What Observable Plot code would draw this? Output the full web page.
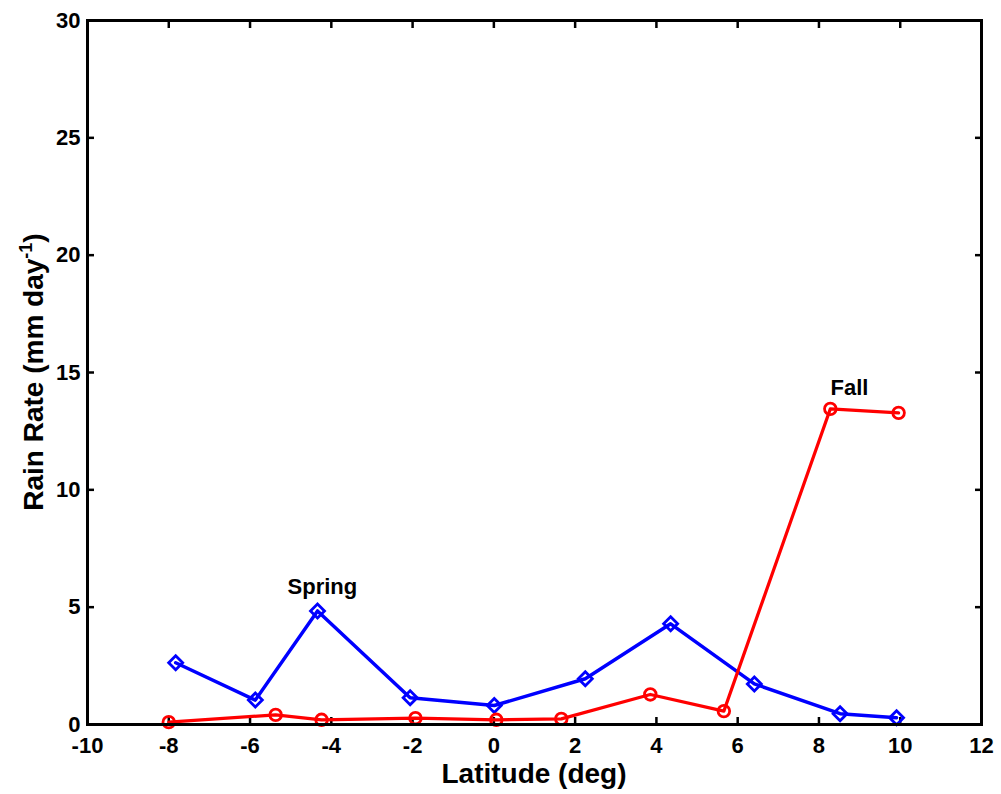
<!DOCTYPE html>
<html><head><meta charset="utf-8">
<script src="https://cdn.jsdelivr.net/npm/d3@7"></script>
<script src="https://cdn.jsdelivr.net/npm/@observablehq/plot@0.6"></script>
<style>body{margin:0;background:#fff} svg{display:block}</style>
</head><body><div id="chart"></div>
<script>
// Spring (blue diamonds)
const springLat  = [-7.83, -5.87, -4.34, -2.06, 0.01, 2.25, 4.35, 6.41, 8.52, 9.91];
const springRain = [2.63, 1.04, 4.84, 1.14, 0.81, 1.95, 4.29, 1.73, 0.46, 0.29];
// Fall (red circles)
const fallLat  = [-8.0, -5.37, -4.24, -1.93, 0.06, 1.66, 3.85, 5.66, 8.28, 9.96];
const fallRain = [0.10, 0.41, 0.20, 0.27, 0.20, 0.24, 1.28, 0.57, 13.45, 13.28];
// Axis ticks
const xTicks = [-10, -8, -6, -4, -2, 0, 2, 4, 6, 8, 10, 12];
const yTicks = [0, 5, 10, 15, 20, 25, 30];
// Annotations
const noteNames = ["Spring", "Fall"];
const noteLat = [-4.22, 8.75];
const noteRain = [5.54, 14.02];

const spring = springLat.map((x, i) => ({x, y: springRain[i]}));
const fall = fallLat.map((x, i) => ({x, y: fallRain[i]}));
const notes = noteNames.map((name, i) => ({name, x: noteLat[i], y: noteRain[i]}));

const W = 1001, H = 794, mL = 87, mR = 20, mT = 20, mB = 70;
const fmt = d => String(d);

const chart = Plot.plot({
  width: W, height: H,
  marginLeft: mL, marginRight: mR, marginTop: mT, marginBottom: mB,
  style: {fontFamily: "'Liberation Sans', Arial, sans-serif", fontSize: "22px", fontWeight: "bold", color: "black", background: "white"},
  x: {domain: [-10, 12]},
  y: {domain: [0, 30]},
  marks: [
    Plot.axisX({anchor: "bottom", ticks: xTicks, tickFormat: fmt, tickSize: -7, tickPadding: 20, strokeWidth: 2.5, fontSize: 22, fontWeight: "bold", label: null}),
    Plot.axisX({anchor: "top", ticks: xTicks, tickSize: -7, strokeWidth: 2.5, fill: "none", label: null}),
    Plot.axisY({anchor: "left", ticks: yTicks, tickFormat: fmt, tickSize: -7, tickPadding: 14, strokeWidth: 2.5, fontSize: 22, fontWeight: "bold", label: null}),
    Plot.axisY({anchor: "right", ticks: yTicks, tickSize: -7, strokeWidth: 2.5, fill: "none", label: null}),
    Plot.line(spring, {x: "x", y: "y", stroke: "#0000ff", strokeWidth: 3.5}),
    Plot.dot(spring, {x: "x", y: "y", symbol: "diamond2", r: 6.3, stroke: "#0000ff", strokeWidth: 2.8, fill: "none"}),
    Plot.line(fall, {x: "x", y: "y", stroke: "#ff0000", strokeWidth: 3.2}),
    Plot.dot(fall, {x: "x", y: "y", symbol: "circle", r: 5.8, stroke: "#ff0000", strokeWidth: 2.8, fill: "none"}),
    Plot.text(notes, {x: "x", y: "y", text: "name", fontSize: 22, fontWeight: "bold", textAnchor: "middle", lineAnchor: "bottom", fill: "black"}),
    Plot.frame({stroke: "black", strokeWidth: 3})
  ]
});

document.getElementById("chart").appendChild(chart);

const svg = d3.select(chart);
// x-axis title
svg.append("text")
  .attr("x", (mL + (W - mR)) / 2).attr("y", 783)
  .attr("text-anchor", "middle").attr("font-size", 28).attr("font-weight", "bold")
  .text("Latitude (deg)");
// y-axis title with superscript
const yt = svg.append("text")
  .attr("transform", `translate(43,${(mT + (H - mB)) / 2}) rotate(-90)`)
  .attr("text-anchor", "middle").attr("font-size", 28).attr("font-weight", "bold");
yt.append("tspan").text("Rain Rate (mm day");
yt.append("tspan").attr("dy", -11).attr("font-size", 18).text("-1");
yt.append("tspan").attr("dy", 11).text(")");
</script>
</body></html>
